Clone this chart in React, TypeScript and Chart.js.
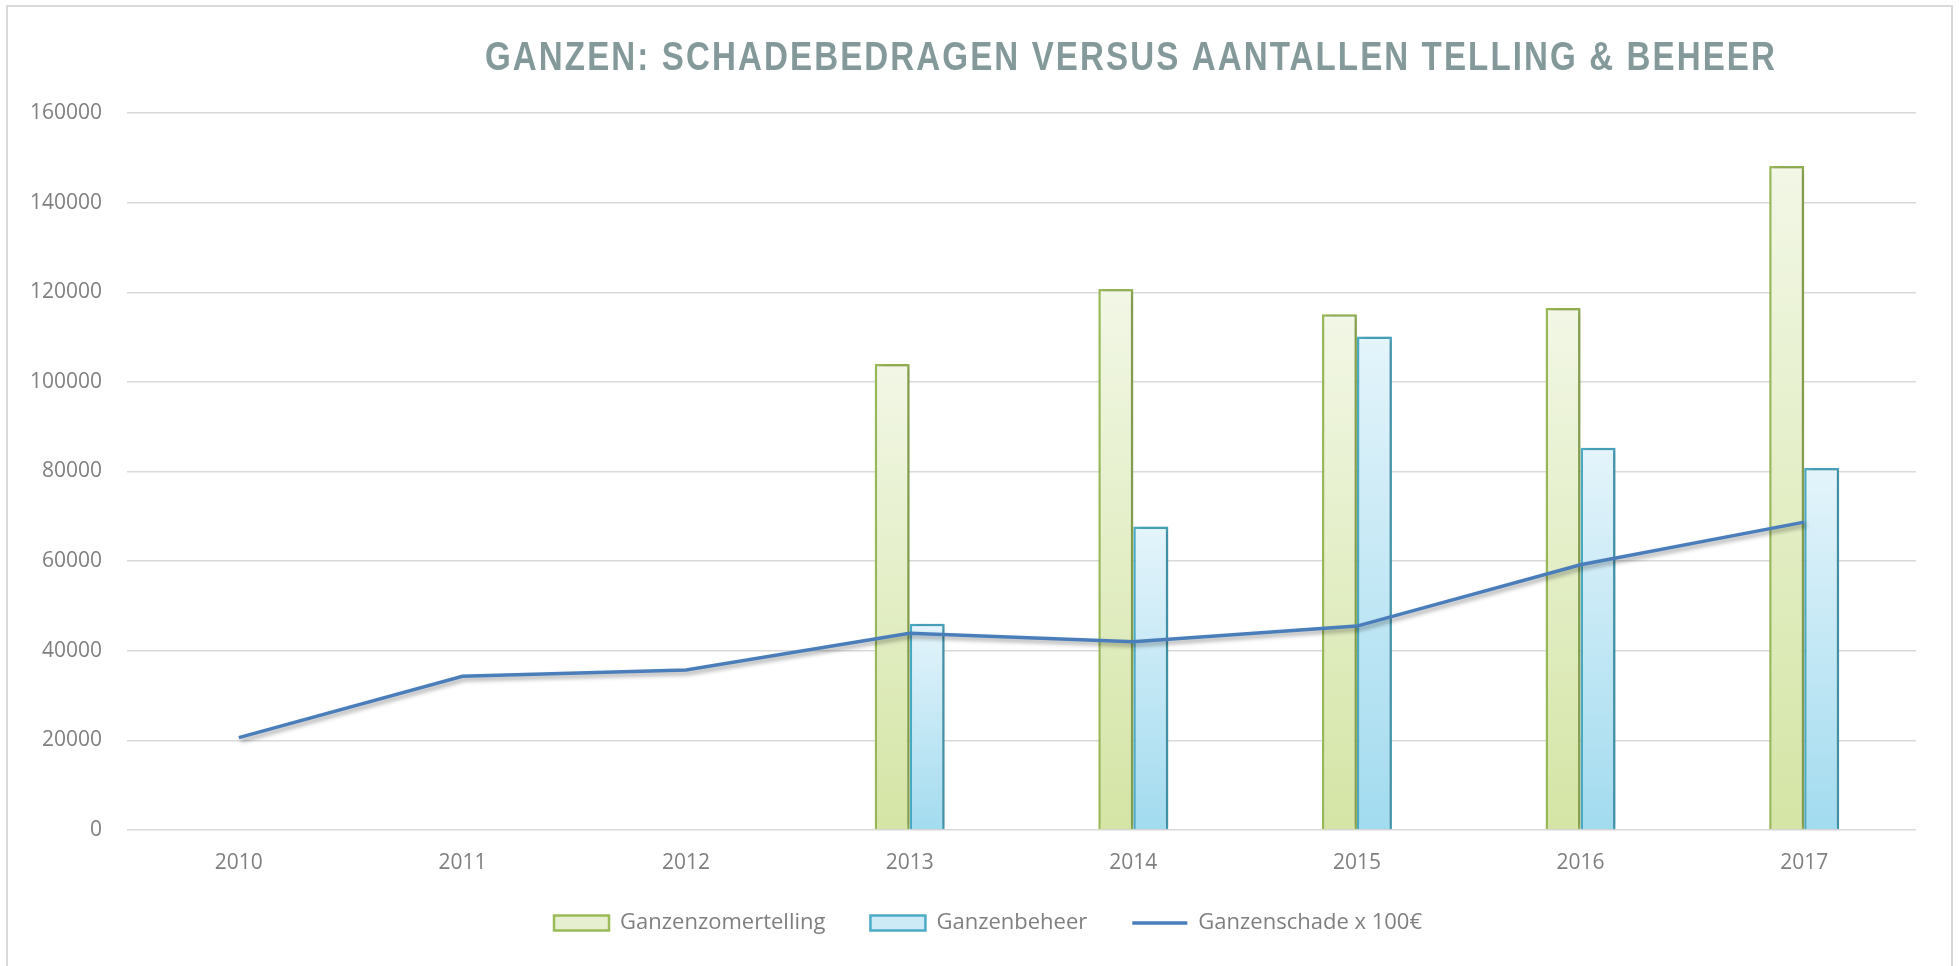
import React, { useEffect, useRef } from "react";
import { Chart, registerables } from "chart.js";

Chart.register(...registerables);

const TITLE = "GANZEN: SCHADEBEDRAGEN VERSUS AANTALLEN TELLING & BEHEER";
const years = ["2010", "2011", "2012", "2013", "2014", "2015", "2016", "2017"];
const zomertelling = [null, null, null, 104000, 120700, 115100, 116500, 148200];
const beheer = [null, null, null, 46000, 67700, 110100, 85300, 80800];
const schade = [20600, 34300, 35700, 43900, 42000, 45500, 59200, 68700];
const seriesNames = ["Ganzenzomertelling", "Ganzenbeheer", "Ganzenschade x 100€"];

const TICK_COLOR = "#7f7f7f";
const GRID_COLOR = "#d9d9d9";

function barGradient(top: string, bottom: string, flat: string) {
  return (c: any) => {
    const chart = c.chart;
    if (c.type !== "data" || !chart.scales || !chart.scales.y || c.raw == null) return flat;
    const y = chart.scales.y;
    const t = y.getPixelForValue(c.raw);
    const b = y.getPixelForValue(0);
    if (!isFinite(t) || !isFinite(b) || t === b) return flat;
    const g = chart.ctx.createLinearGradient(0, t, 0, b);
    g.addColorStop(0, top);
    g.addColorStop(1, bottom);
    return g;
  };
}

const titlePlugin = {
  id: "customTitle",
  afterDraw(chart: any) {
    const ctx = chart.ctx;
    ctx.save();
    ctx.font = "bold 40px 'Liberation Sans', Arial, sans-serif";
    try {
      (ctx as any).letterSpacing = "2.5px";
    } catch (e) {}
    ctx.fillStyle = "#849a9a";
    ctx.textAlign = "left";
    ctx.textBaseline = "alphabetic";
    const w = ctx.measureText(TITLE).width;
    const target = 1292;
    const sx = target / w;
    ctx.translate(1131 - target / 2, 70);
    ctx.scale(sx, 1);
    ctx.fillText(TITLE, 0, 0);
    ctx.restore();
  },
};

const legendShiftPlugin = {
  id: "legendShift",
  afterLayout(chart: any) {
    const l = chart.legend;
    if (l) {
      l.top -= 9;
      l.bottom -= 9;
    }
  },
};

const shadowPlugin = {
  id: "shadows",
  beforeDatasetDraw(chart: any, args: any) {
    const ctx = chart.ctx;
    ctx.save();
    if (args.meta.type === "line") {
      ctx.shadowColor = "rgba(0,0,0,0.35)";
      ctx.shadowBlur = 4;
      ctx.shadowOffsetX = 2;
      ctx.shadowOffsetY = 3;
    } else {
      ctx.shadowColor = "rgba(0,0,0,0.22)";
      ctx.shadowBlur = 6;
      ctx.shadowOffsetX = 3;
      ctx.shadowOffsetY = 0;
    }
  },
  afterDatasetDraw(chart: any) {
    chart.ctx.restore();
  },
};

export default function App() {
  const ref = useRef<HTMLCanvasElement | null>(null);

  useEffect(() => {
    if (!ref.current) return;
    const chart = new Chart(ref.current, {
      type: "bar",
      data: {
        labels: years,
        datasets: [
          {
            type: "bar",
            label: seriesNames[0],
            data: zomertelling as any,
            backgroundColor: barGradient("#f2f7e6", "#d4e5a5", "#e6efcf") as any,
            borderColor: "#9bbb59",
            borderWidth: 2.5,
            borderSkipped: "bottom",
            pointStyle: "rect",
            order: 1,
          } as any,
          {
            type: "bar",
            label: seriesNames[1],
            data: beheer as any,
            backgroundColor: barGradient("#e4f4fb", "#a2dbef", "#cdebf7") as any,
            borderColor: "#4bacc6",
            borderWidth: 2.5,
            borderSkipped: "bottom",
            pointStyle: "rect",
            order: 1,
          } as any,
          {
            type: "line",
            label: seriesNames[2],
            data: schade,
            borderColor: "#4a7ebb",
            backgroundColor: "#4a7ebb",
            borderWidth: 3.5,
            pointRadius: 0,
            pointHoverRadius: 0,
            pointStyle: "line",
            tension: 0,
            fill: false,
            order: 0,
          } as any,
        ],
      },
      options: {
        animation: false,
        responsive: false,
        devicePixelRatio: 1,
        layout: { padding: { left: 24, right: 7, top: 113, bottom: 13 } },
        datasets: {
          bar: { categoryPercentage: 0.313, barPercentage: 1 },
        },
        scales: {
          x: {
            type: "category",
            offset: true,
            grid: { display: false, drawTicks: false },
            border: { display: false },
            ticks: {
              color: TICK_COLOR,
              font: { family: "'Open Sans', sans-serif", size: 21 },
              padding: 20,
              maxRotation: 0,
            },
            afterFit: (s: any) => {
              s.height = 46;
            },
          },
          y: {
            min: 0,
            max: 160000,
            grid: { color: GRID_COLOR, lineWidth: 1.5, drawTicks: false },
            border: { display: false },
            ticks: {
              stepSize: 20000,
              color: TICK_COLOR,
              font: { family: "'Open Sans', sans-serif", size: 21 },
              padding: 25,
              callback: (v: any) => String(v),
            },
            afterFit: (s: any) => {
              s.width = 103;
            },
          },
          yRight: {
            position: "right",
            display: true,
            min: 0,
            max: 1,
            grid: { display: false, drawTicks: false },
            border: { display: false },
            ticks: { display: false },
            afterFit: (s: any) => {
              s.width = 36;
            },
          },
        },
        plugins: {
          title: { display: false },
          tooltip: { enabled: false },
          legend: {
            display: true,
            position: "bottom",
            labels: {
              usePointStyle: true,
              pointStyleWidth: 55,
              boxHeight: 15,
              padding: 45,
              color: TICK_COLOR,
              font: { family: "'Open Sans', sans-serif", size: 22 },
              sort: (a: any, b: any) => a.datasetIndex - b.datasetIndex,
            },
          },
        },
      } as any,
      plugins: [titlePlugin, shadowPlugin, legendShiftPlugin],
    });
    return () => chart.destroy();
  }, []);

  return (
    <div style={{ position: "fixed", left: 0, top: 0, width: 1959, height: 966, background: "#fff", overflow: "hidden" }}>
      <canvas ref={ref} width={1959} height={966} style={{ display: "block", width: 1959, height: 966 }} />
      <div
        style={{
          position: "absolute",
          left: 6,
          top: 5,
          width: 1947,
          height: 1000,
          border: "2px solid #d9d9d9",
          boxSizing: "border-box",
          pointerEvents: "none",
        }}
      />
    </div>
  );
}
